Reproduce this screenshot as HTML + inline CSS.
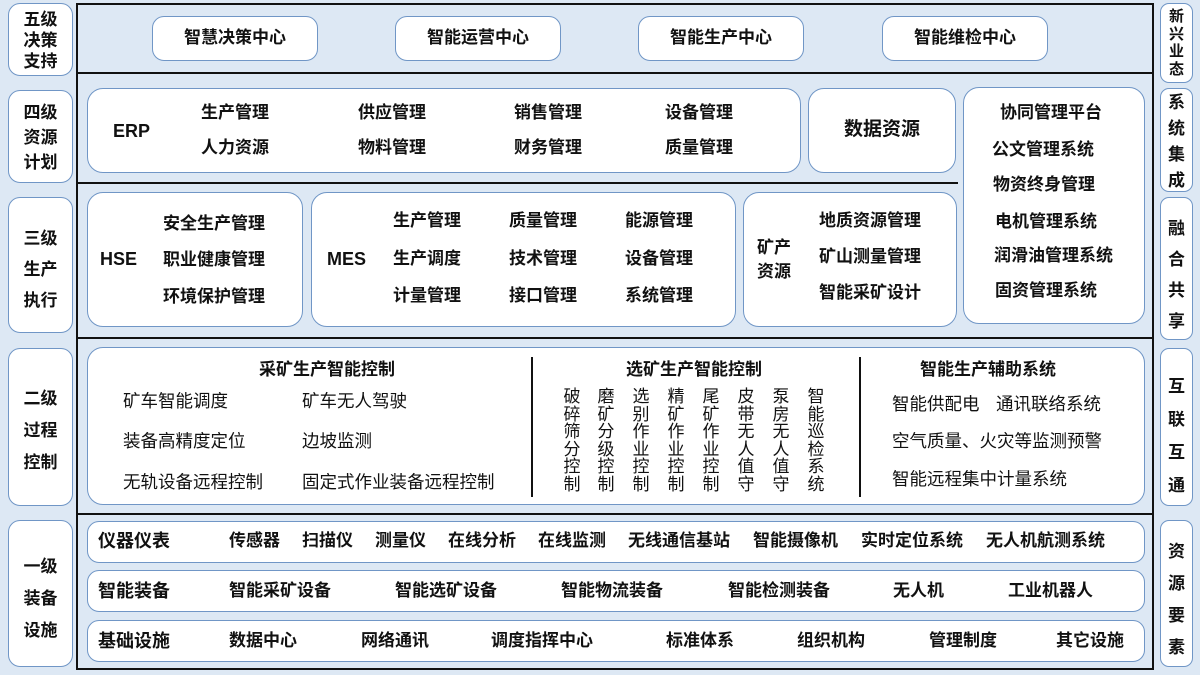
<!DOCTYPE html>
<html><head><meta charset="utf-8"><style>
*{margin:0;padding:0;box-sizing:border-box}
body{width:1200px;height:675px;background:#dde8f4;position:relative;overflow:hidden;font-family:"Liberation Sans","Noto Sans CJK SC",sans-serif;color:#111}
.b{position:absolute;background:#fff;border:1.5px solid #7096c6;border-radius:12px}
.t{position:absolute;font-weight:bold;font-size:17px;line-height:20px;white-space:nowrap}
.r{font-weight:normal;font-size:17.5px}
.h{position:absolute;background:#111}
.c{position:absolute;text-align:center;font-weight:bold;font-size:17px;line-height:20px}
.v{position:absolute;font-size:17px;line-height:17.5px;width:18px;text-align:center}
</style></head><body>
<div style="position:absolute;left:76px;top:3px;width:1078px;height:667px;border:2px solid #111"></div>
<div class="h" style="left:78px;top:72px;width:1075px;height:2px"></div>
<div class="h" style="left:78px;top:182px;width:880px;height:2px"></div>
<div class="h" style="left:78px;top:337px;width:1075px;height:2px"></div>
<div class="h" style="left:78px;top:513px;width:1075px;height:2px"></div>

<div class="b" style="left:8px;top:3px;width:65px;height:73px"></div>
<div class="b" style="left:8px;top:90px;width:65px;height:93px"></div>
<div class="b" style="left:8px;top:197px;width:65px;height:136px"></div>
<div class="b" style="left:8px;top:348px;width:65px;height:158px"></div>
<div class="b" style="left:8px;top:520px;width:65px;height:147px"></div>
<div class="c" style="left:8px;width:65px;top:9px;line-height:21px">五级<br>决策<br>支持</div>
<div class="c" style="left:8px;width:65px;top:100px;line-height:25px">四级<br>资源<br>计划</div>
<div class="c" style="left:8px;width:65px;top:223px;line-height:31px">三级<br>生产<br>执行</div>
<div class="c" style="left:8px;width:65px;top:383px;line-height:32px">二级<br>过程<br>控制</div>
<div class="c" style="left:8px;width:65px;top:551px;line-height:32px">一级<br>装备<br>设施</div>

<div class="b" style="left:1160px;top:3px;width:33px;height:80px;border-radius:9px"></div>
<div class="b" style="left:1160px;top:88px;width:33px;height:104px;border-radius:9px"></div>
<div class="b" style="left:1160px;top:197px;width:33px;height:143px;border-radius:9px"></div>
<div class="b" style="left:1160px;top:348px;width:33px;height:158px;border-radius:9px"></div>
<div class="b" style="left:1160px;top:520px;width:33px;height:147px;border-radius:9px"></div>
<div class="c" style="left:1160px;width:33px;top:8px;font-size:15px;line-height:17.5px">新<br>兴<br>业<br>态</div>
<div class="c" style="left:1160px;width:33px;top:90px;line-height:26px">系<br>统<br>集<br>成</div>
<div class="c" style="left:1160px;width:33px;top:213px;line-height:31px">融<br>合<br>共<br>享</div>
<div class="c" style="left:1160px;width:33px;top:370px;line-height:33px">互<br>联<br>互<br>通</div>
<div class="c" style="left:1160px;width:33px;top:536px;line-height:32px">资<br>源<br>要<br>素</div>

<div class="b" style="left:152px;top:16px;width:166px;height:45px"></div>
<div class="b" style="left:395px;top:16px;width:166px;height:45px"></div>
<div class="b" style="left:638px;top:16px;width:166px;height:45px"></div>
<div class="b" style="left:882px;top:16px;width:166px;height:45px"></div>
<div class="c" style="left:152px;width:166px;top:28px">智慧决策中心</div>
<div class="c" style="left:395px;width:166px;top:28px">智能运营中心</div>
<div class="c" style="left:638px;width:166px;top:28px">智能生产中心</div>
<div class="c" style="left:882px;width:166px;top:28px">智能维检中心</div>

<div class="b" style="left:87px;top:88px;width:714px;height:85px;border-radius:16px"></div>
<div class="t" style="left:113px;top:121px;font-size:18px">ERP</div>
<div class="t" style="left:201px;top:103px">生产管理</div>
<div class="t" style="left:358px;top:103px">供应管理</div>
<div class="t" style="left:514px;top:103px">销售管理</div>
<div class="t" style="left:665px;top:103px">设备管理</div>
<div class="t" style="left:201px;top:138px">人力资源</div>
<div class="t" style="left:358px;top:138px">物料管理</div>
<div class="t" style="left:514px;top:138px">财务管理</div>
<div class="t" style="left:665px;top:138px">质量管理</div>
<div class="b" style="left:808px;top:88px;width:148px;height:85px;border-radius:16px"></div>
<div class="c" style="left:808px;width:148px;top:120px;font-size:19px">数据资源</div>

<div class="b" style="left:963px;top:87px;width:182px;height:237px;border-radius:16px"></div>
<div class="t" style="left:1000px;top:103px">协同管理平台</div>
<div class="t" style="left:992px;top:140px">公文管理系统</div>
<div class="t" style="left:993px;top:175px">物资终身管理</div>
<div class="t" style="left:995px;top:212px">电机管理系统</div>
<div class="t" style="left:994px;top:246px">润滑油管理系统</div>
<div class="t" style="left:995px;top:281px">固资管理系统</div>

<div class="b" style="left:87px;top:192px;width:216px;height:135px;border-radius:16px"></div>
<div class="t" style="left:100px;top:249px;font-size:18px">HSE</div>
<div class="t" style="left:163px;top:214px">安全生产管理</div>
<div class="t" style="left:163px;top:250px">职业健康管理</div>
<div class="t" style="left:163px;top:287px">环境保护管理</div>
<div class="b" style="left:311px;top:192px;width:425px;height:135px;border-radius:16px"></div>
<div class="t" style="left:327px;top:249px;font-size:18px">MES</div>
<div class="t" style="left:393px;top:211px">生产管理</div>
<div class="t" style="left:509px;top:211px">质量管理</div>
<div class="t" style="left:625px;top:211px">能源管理</div>
<div class="t" style="left:393px;top:249px">生产调度</div>
<div class="t" style="left:509px;top:249px">技术管理</div>
<div class="t" style="left:625px;top:249px">设备管理</div>
<div class="t" style="left:393px;top:286px">计量管理</div>
<div class="t" style="left:509px;top:286px">接口管理</div>
<div class="t" style="left:625px;top:286px">系统管理</div>
<div class="b" style="left:743px;top:192px;width:214px;height:135px;border-radius:16px"></div>
<div class="t" style="left:757px;top:236px;line-height:24px">矿产<br>资源</div>
<div class="t" style="left:819px;top:211px">地质资源管理</div>
<div class="t" style="left:819px;top:247px">矿山测量管理</div>
<div class="t" style="left:819px;top:283px">智能采矿设计</div>

<div class="b" style="left:87px;top:347px;width:1058px;height:158px;border-radius:16px"></div>
<div class="h" style="left:531px;top:357px;width:2px;height:140px"></div>
<div class="h" style="left:859px;top:357px;width:2px;height:140px"></div>
<div class="c" style="left:227px;width:200px;top:360px">采矿生产智能控制</div>
<div class="c" style="left:594px;width:200px;top:360px">选矿生产智能控制</div>
<div class="c" style="left:888px;width:200px;top:360px">智能生产辅助系统</div>
<div class="t r" style="left:123px;top:391px">矿车智能调度</div>
<div class="t r" style="left:302px;top:391px">矿车无人驾驶</div>
<div class="t r" style="left:123px;top:431px">装备高精度定位</div>
<div class="t r" style="left:302px;top:431px">边坡监测</div>
<div class="t r" style="left:123px;top:472px">无轨设备远程控制</div>
<div class="t r" style="left:302px;top:472px">固定式作业装备远程控制</div>
<div class="t r" style="left:892px;top:394px">智能供配电</div>
<div class="t r" style="left:996px;top:394px">通讯联络系统</div>
<div class="t r" style="left:892px;top:431px">空气质量、火灾等监测预警</div>
<div class="t r" style="left:892px;top:469px">智能远程集中计量系统</div>
<div class="v" style="left:563px;top:388px">破<br>碎<br>筛<br>分<br>控<br>制</div>
<div class="v" style="left:597px;top:388px">磨<br>矿<br>分<br>级<br>控<br>制</div>
<div class="v" style="left:632px;top:388px">选<br>别<br>作<br>业<br>控<br>制</div>
<div class="v" style="left:667px;top:388px">精<br>矿<br>作<br>业<br>控<br>制</div>
<div class="v" style="left:702px;top:388px">尾<br>矿<br>作<br>业<br>控<br>制</div>
<div class="v" style="left:737px;top:388px">皮<br>带<br>无<br>人<br>值<br>守</div>
<div class="v" style="left:772px;top:388px">泵<br>房<br>无<br>人<br>值<br>守</div>
<div class="v" style="left:807px;top:388px">智<br>能<br>巡<br>检<br>系<br>统</div>

<div class="b" style="left:87px;top:521px;width:1058px;height:42px"></div>
<div class="b" style="left:87px;top:570px;width:1058px;height:42px"></div>
<div class="b" style="left:87px;top:620px;width:1058px;height:42px"></div>
<div class="t" style="left:98px;top:531px;font-size:18px">仪器仪表</div>
<div class="t" style="left:229px;top:531px">传感器</div>
<div class="t" style="left:302px;top:531px">扫描仪</div>
<div class="t" style="left:375px;top:531px">测量仪</div>
<div class="t" style="left:448px;top:531px">在线分析</div>
<div class="t" style="left:538px;top:531px">在线监测</div>
<div class="t" style="left:628px;top:531px">无线通信基站</div>
<div class="t" style="left:753px;top:531px">智能摄像机</div>
<div class="t" style="left:861px;top:531px">实时定位系统</div>
<div class="t" style="left:986px;top:531px">无人机航测系统</div>
<div class="t" style="left:98px;top:581px;font-size:18px">智能装备</div>
<div class="t" style="left:229px;top:581px">智能采矿设备</div>
<div class="t" style="left:395px;top:581px">智能选矿设备</div>
<div class="t" style="left:561px;top:581px">智能物流装备</div>
<div class="t" style="left:728px;top:581px">智能检测装备</div>
<div class="t" style="left:893px;top:581px">无人机</div>
<div class="t" style="left:1008px;top:581px">工业机器人</div>
<div class="t" style="left:98px;top:631px;font-size:18px">基础设施</div>
<div class="t" style="left:229px;top:631px">数据中心</div>
<div class="t" style="left:361px;top:631px">网络通讯</div>
<div class="t" style="left:491px;top:631px">调度指挥中心</div>
<div class="t" style="left:666px;top:631px">标准体系</div>
<div class="t" style="left:797px;top:631px">组织机构</div>
<div class="t" style="left:929px;top:631px">管理制度</div>
<div class="t" style="left:1056px;top:631px">其它设施</div>
</body></html>
